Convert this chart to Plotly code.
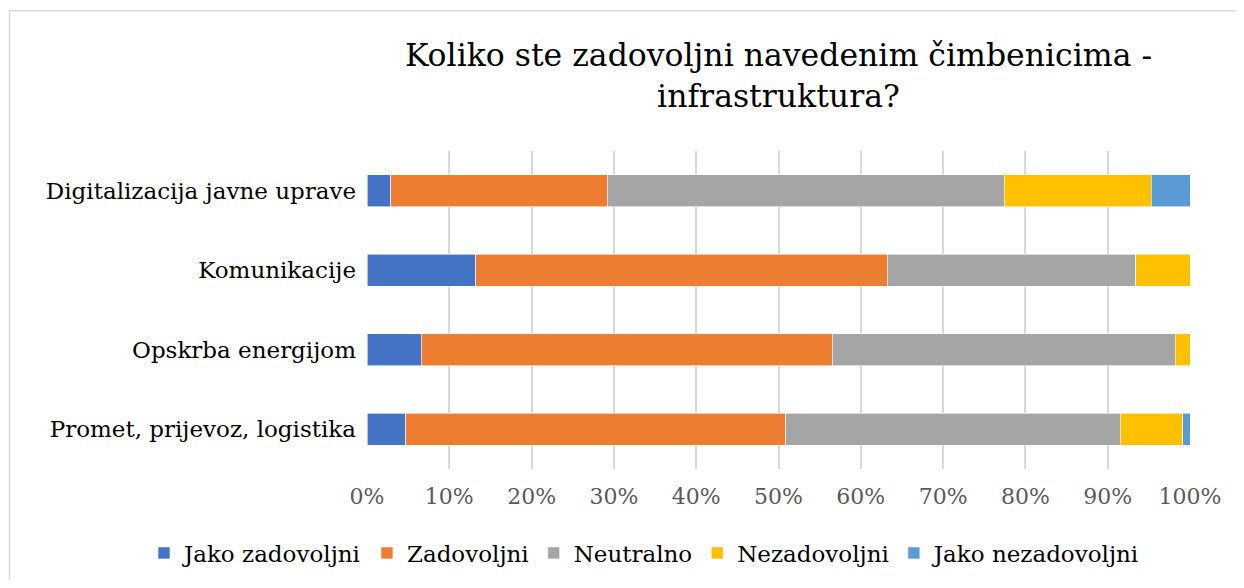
import plotly.graph_objects as go

categories = ["Promet, prijevoz, logistika", "Opskrba energijom", "Komunikacije", "Digitalizacija javne uprave"]
series_names = ["Jako zadovoljni", "Zadovoljni", "Neutralno", "Nezadovoljni", "Jako nezadovoljni"]
jako_zadovoljni = [4.7, 6.6, 13.2, 2.9]
zadovoljni = [46.2, 49.9, 50.0, 26.3]
neutralno = [40.6, 41.7, 30.2, 48.2]
nezadovoljni = [7.6, 1.8, 6.6, 17.9]
jako_nezadovoljni = [0.9, 0.0, 0.0, 4.7]
colors = ["#4472C4", "#ED7D31", "#A5A5A5", "#FFC000", "#5B9BD5"]
tick_vals = [0, 10, 20, 30, 40, 50, 60, 70, 80, 90, 100]
tick_text = [f"{v}%" for v in tick_vals]

values = [jako_zadovoljni, zadovoljni, neutralno, nezadovoljni, jako_nezadovoljni]
FONT = "DejaVu Serif"

fig = go.Figure()
for name, vals, col in zip(series_names, values, colors):
    fig.add_trace(go.Bar(
        y=categories, x=vals, name=name, orientation="h",
        marker=dict(color=col, line=dict(color="white", width=0.6)),
    ))

# page has an 8px body margin; figure coordinates = page coordinates - 8
W, H = 1228, 572
L, R, T, B = 359, 46, 143, 111
pw, ph = W - L - R, H - T - B

def px_to_paper_x(px):
    return (px - L) / pw

def px_to_paper_y(py):
    return (H - B - py) / ph

fig.update_layout(
    width=W, height=H,
    barmode="stack", bargap=0.6,
    paper_bgcolor="white", plot_bgcolor="white",
    margin=dict(l=L, r=R, t=T, b=B, autoexpand=False),
    font=dict(family=FONT, color="#000000"),
    title=dict(
        text="Koliko ste zadovoljni navedenim čimbenicima -<br>infrastruktura?",
        x=0.5, xref="paper", xanchor="center",
        y=1 - 58 / H, yref="container", yanchor="top",
        font=dict(family=FONT, size=31.5, color="#000000"),
    ),
    xaxis=dict(
        range=[0, 100], tickvals=tick_vals, ticktext=tick_text,
        showgrid=True, gridcolor="#D9D9D9", gridwidth=1.5,
        zeroline=False, showline=False, automargin=False,
        tickfont=dict(family=FONT, size=22, color="#595959"),
        ticks="", ticklabelstandoff=12,
    ),
    yaxis=dict(
        showgrid=False, zeroline=False, showline=False, automargin=False,
        tickfont=dict(family=FONT, size=23, color="#000000"),
        ticks="", ticklabelstandoff=10,
    ),
    legend=dict(
        orientation="h", x=px_to_paper_x(136), xref="paper", xanchor="left",
        y=px_to_paper_y(545), yref="paper", yanchor="middle",
        font=dict(family=FONT, size=23, color="#000000"),
        traceorder="normal", itemwidth=30,
    ),
    showlegend=True,
    shapes=[dict(
        type="rect", xref="paper", yref="paper",
        x0=px_to_paper_x(1.5), x1=px_to_paper_x(W + 20),
        y0=px_to_paper_y(H + 20), y1=px_to_paper_y(2.7),
        line=dict(color="#D9D9D9", width=1.5), fillcolor="rgba(0,0,0,0)", layer="below",
    )],
)

fig.write_html("out.html")
